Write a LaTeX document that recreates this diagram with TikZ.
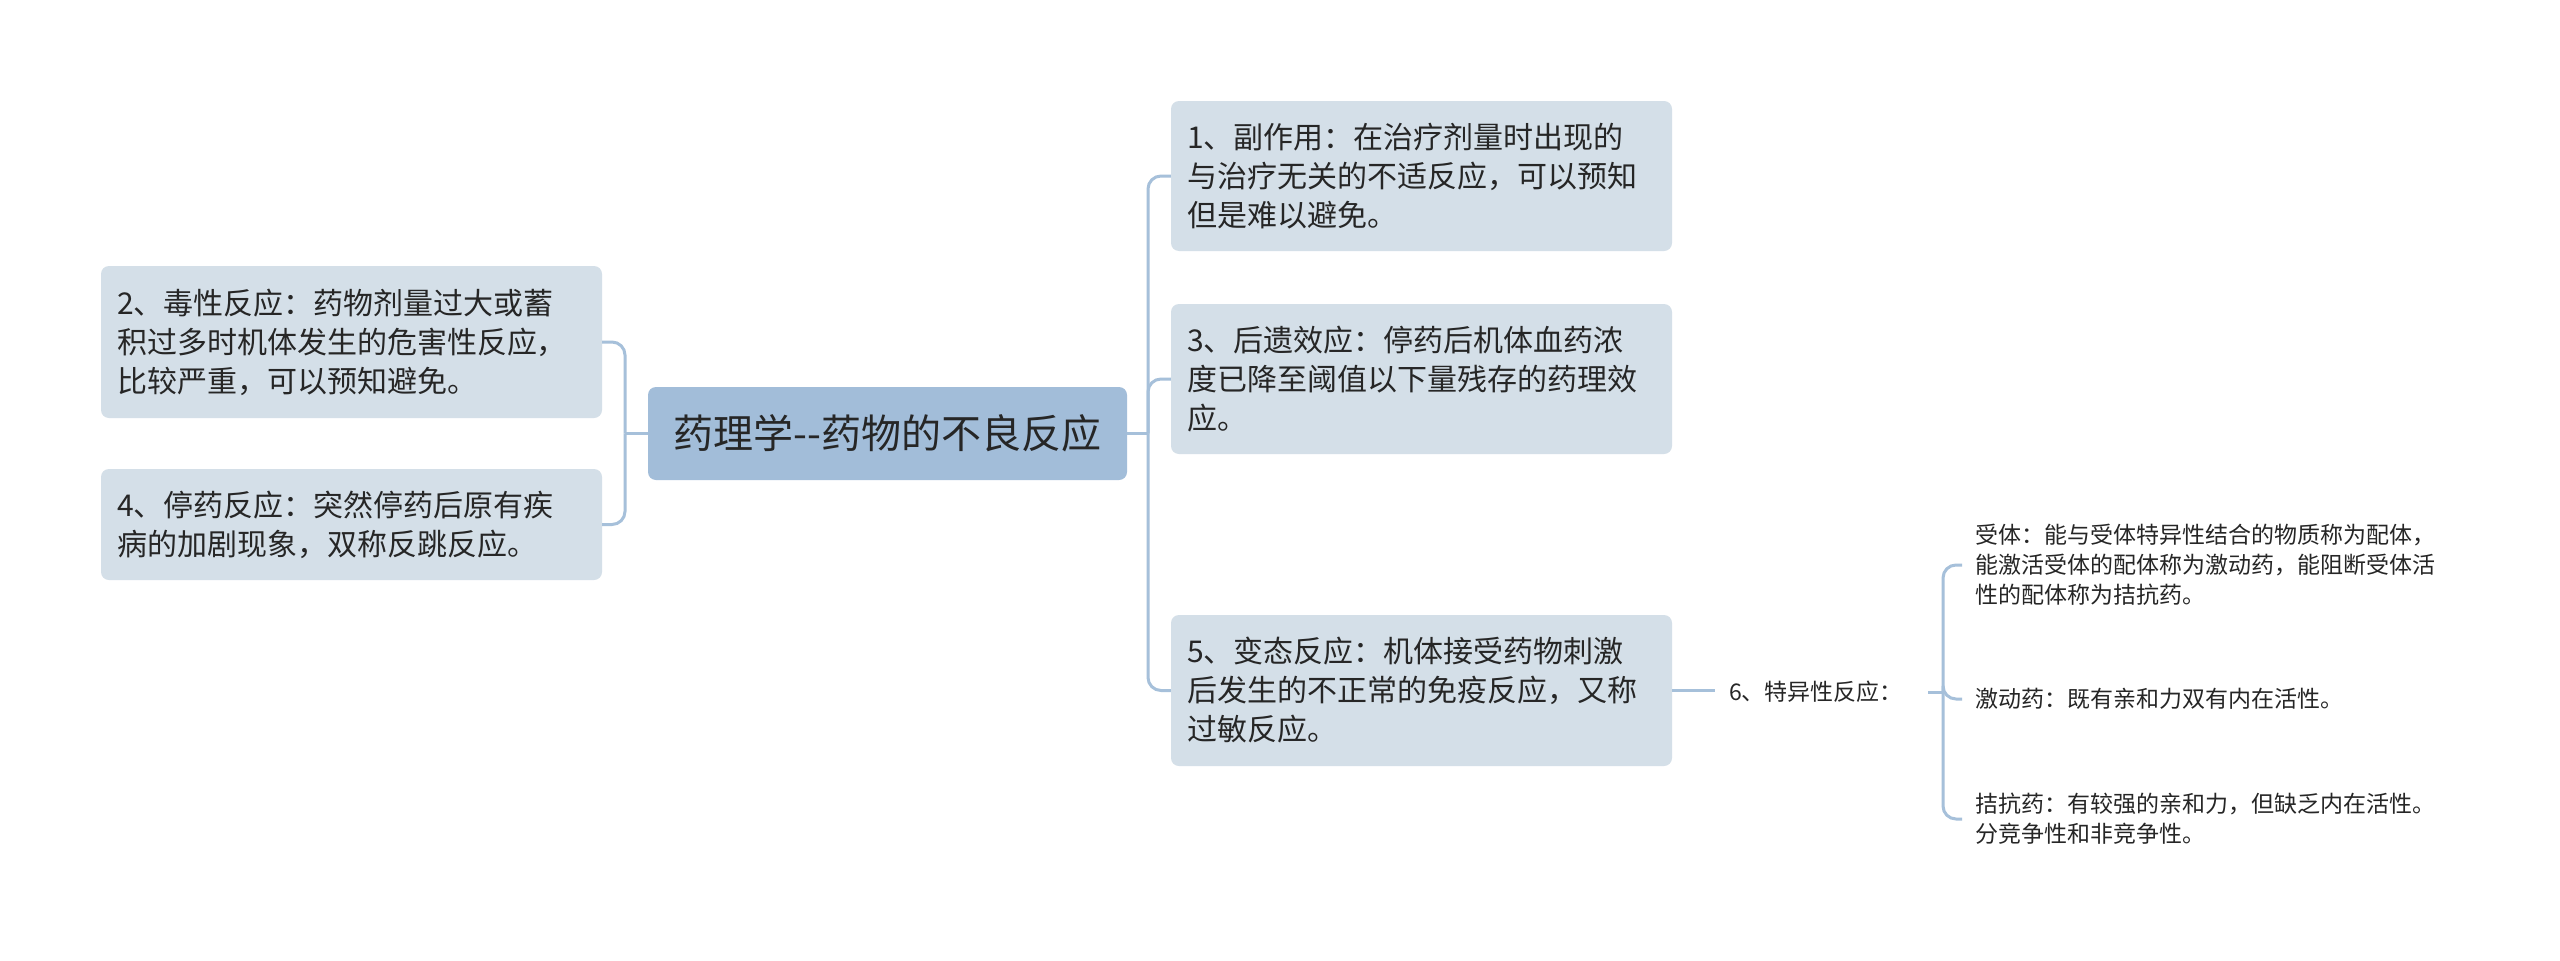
\documentclass[tikz,border=0pt]{standalone}
\usepackage{fontspec}
\setmainfont{Noto Sans CJK SC}
\definecolor{rootc}{HTML}{A2BDD9}
\definecolor{boxc}{HTML}{D4DFE8}
\definecolor{linec}{HTML}{A6C0DA}
\definecolor{textc}{HTML}{262626}
\begin{document}
\begin{tikzpicture}[x=1pt,y=-1pt,
  link/.style={draw=linec, line width=3pt, rounded corners=13pt},
  topic/.style={fill=rootc, rounded corners=8pt, minimum width=479pt, minimum height=93pt,
    font=\fontsize{40}{48}\selectfont, text=textc, inner sep=0pt},
  branch/.style={fill=boxc, rounded corners=8pt, text width=469pt, inner xsep=16pt, inner ysep=0pt,
    align=left, font=\fontsize{30}{39}\selectfont, text=textc},
  leaf/.style={inner xsep=13pt, inner ysep=4pt, align=left,
    font=\fontsize{23}{30}\selectfont, text=textc, anchor=west}
]
\fill[white] (0,0) rectangle (2560,961);
\useasboundingbox (0,0) rectangle (2560,961);

\node[topic] (c) at (887.5,433.5) {药理学\mbox{-}\mbox{-}药物的不良反应};

\node[branch, minimum height=152pt] (n2) at (351.5,342)
  {2、毒性反应：药物剂量过大或蓄\\积过多时机体发生的危害性反应，\\比较严重，可以预知避免。};
\node[branch, minimum height=111pt] (n4) at (351.5,524.5)
  {4、停药反应：突然停药后原有疾\\病的加剧现象，双称反跳反应。};

\node[branch, minimum height=150pt] (n1) at (1421.5,176)
  {1、副作用：在治疗剂量时出现的\\与治疗无关的不适反应，可以预知\\但是难以避免。};
\node[branch, minimum height=150pt] (n3) at (1421.5,379)
  {3、后遗效应：停药后机体血药浓\\度已降至阈值以下量残存的药理效\\应。};
\node[branch, minimum height=151pt] (n5) at (1421.5,690.5)
  {5、变态反应：机体接受药物刺激\\后发生的不正常的免疫反应，又称\\过敏反应。};

\node[leaf, inner xsep=14pt] (n6) at (1715,692) {6、特异性反应：};

\node[leaf] (l1) at (1962,565)
  {受体：能与受体特异性结合的物质称为配体，\\能激活受体的配体称为激动药，能阻断受体活\\性的配体称为拮抗药。};
\node[leaf] (l2) at (1962,699) {激动药：既有亲和力双有内在活性。};
\node[leaf] (l3) at (1962,819)
  {拮抗药：有较强的亲和力，但缺乏内在活性。\\分竞争性和非竞争性。};

\coordinate (jr) at (1148,433.5);
\coordinate (jl) at (625,433.5);
\coordinate (jb) at (1943,692);

\draw[link] (c.east) -- (jr);
\draw[link] (jr) |- (n1.west);
\draw[link] (jr) |- (n3.west);
\draw[link] (jr) |- (n5.west);

\draw[link] (c.west) -- (jl);
\draw[link] (jl) |- (n2.east);
\draw[link] (jl) |- (n4.east);

\draw[link] (n5.east) -- (n5.east -| n6.west);
\draw[link] ([xshift=11pt]n6.east) -- (jb);
\draw[link] (jb) |- (l1.west);
\draw[link] (jb) |- (l2.west);
\draw[link] (jb) |- (l3.west);
\end{tikzpicture}
\end{document}
